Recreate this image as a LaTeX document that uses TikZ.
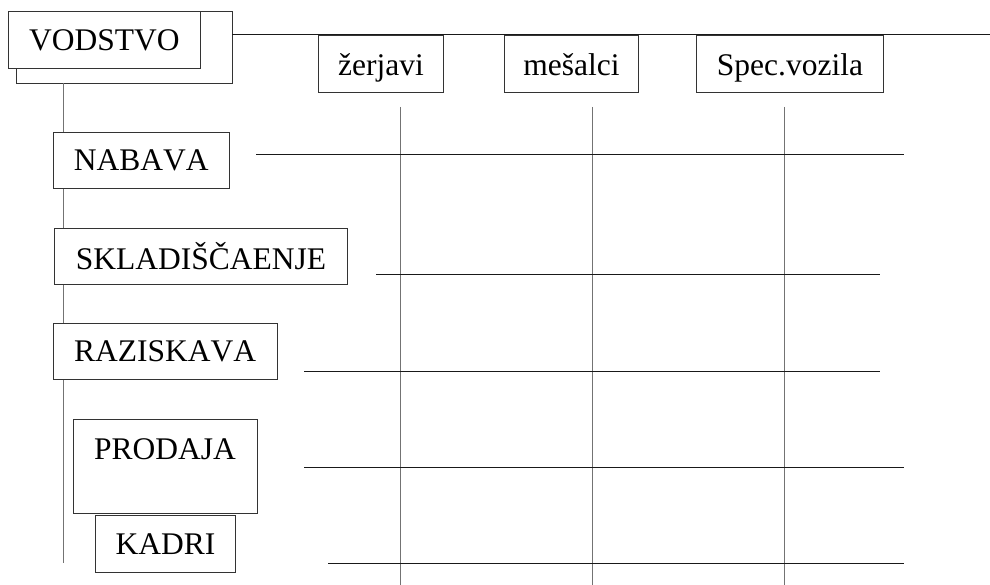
\documentclass[tikz,border=0pt]{standalone}
\usepackage{fontspec}
\setmainfont[Kerning=Off]{Liberation Serif}
\begin{document}
\begin{tikzpicture}[x=1pt,y=-1pt,
  box/.style={draw=black!80, line width=0.9pt, fill=white, inner sep=0pt, anchor=north west, font=\fontsize{31.5}{36}\selectfont},
  colbox/.style={box, text height=28pt, text depth=5pt},
  txt/.style={inner sep=0pt, font=\fontsize{31.5}{36}\selectfont},
  hline/.style={draw=black!90, line width=1pt},
  vline/.style={draw=black!55, line width=1pt}]
\useasboundingbox (0,0) rectangle (990,585);
% VODSTVO (double box)
\node[box, minimum width=216pt, minimum height=72pt] (vodback) at (16,11) {};
\node[box, minimum width=192pt, minimum height=57pt] (vodstvo) at (8,11) {VODSTVO};
% columns
\node[colbox, minimum width=125pt, minimum height=57pt] (zerjavi) at (318,35) {žerjavi};
\node[colbox, minimum width=134pt, minimum height=57pt] (mesalci) at (504,35) {mešalci};
\node[colbox, minimum width=187pt, minimum height=57pt] (spec) at (696,35) {Spec.vozila};
% coordinates
\coordinate (topA) at (232,35);
\coordinate (topB) at (990,35);
\coordinate (lvA) at (63.3,83);
\coordinate (lvB) at (63.3,563.3);
\coordinate (c1a) at (400,107); \coordinate (c1b) at (400,585);
\coordinate (c2a) at (592,107); \coordinate (c2b) at (592,585);
\coordinate (c3a) at (784,107); \coordinate (c3b) at (784,585);
\coordinate (r1a) at (256,155);   \coordinate (r1b) at (904,155);
\coordinate (r2a) at (376,275);   \coordinate (r2b) at (880,275);
\coordinate (r3a) at (304,371.7); \coordinate (r3b) at (880,371.7);
\coordinate (r4a) at (304,467.3); \coordinate (r4b) at (904,467.3);
\coordinate (r5a) at (328,563.3); \coordinate (r5b) at (904,563.3);
% lines
\draw[hline] (topA) -- (topB);
\draw[vline] (lvA) -- (lvB);
\draw[vline] (c1a) -- (c1b);
\draw[vline] (c2a) -- (c2b);
\draw[vline] (c3a) -- (c3b);
\draw[hline] (r1a) -- (r1b);
\draw[hline] (r2a) -- (r2b);
\draw[hline] (r3a) -- (r3b);
\draw[hline] (r4a) -- (r4b);
\draw[hline] (r5a) -- (r5b);
% rows (drawn over the left line)
\node[box, minimum width=176pt, minimum height=56pt] (nabava) at (52.7,131.7) {NABAVA};
\node[box, minimum width=293pt, minimum height=56pt] (sklad) at (54,227.7) {SKLADIŠČAENJE};
\node[box, minimum width=224pt, minimum height=56pt] (raz) at (52.7,323.3) {RAZISKAVA};
\node[box, minimum width=183.4pt, minimum height=93.4pt] (prodaja) at (73.3,419.3) {};
\node[txt] (prodajatxt) at (165,449) {PRODAJA};
\node[box, minimum width=140.6pt, minimum height=56.4pt] (kadri) at (94.7,515.3) {KADRI};
\end{tikzpicture}
\end{document}
